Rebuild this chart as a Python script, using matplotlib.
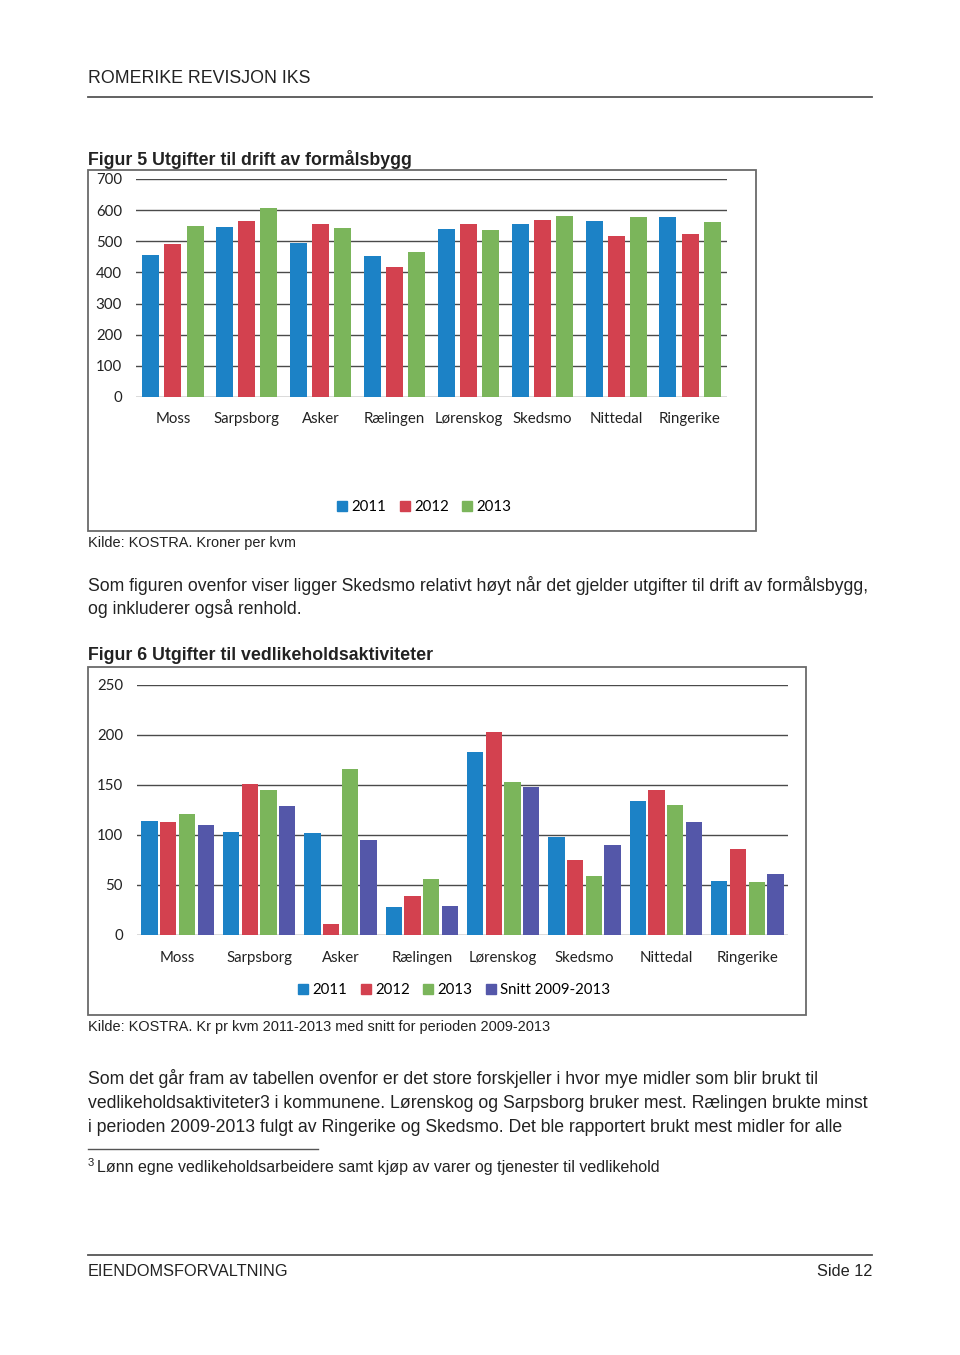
import numpy as np
import matplotlib
matplotlib.use('Agg')
import matplotlib.pyplot as plt
from matplotlib import font_manager
from matplotlib.font_manager import FontProperties
from matplotlib.patches import Rectangle
from matplotlib.lines import Line2D

kommuner = ['Moss', 'Sarpsborg', 'Asker', 'Rælingen', 'Lørenskog', 'Skedsmo', 'Nittedal', 'Ringerike']

# Figur 5 - kroner per kvm
drift_2011 = [457, 547, 494, 454, 540, 555, 564, 577]
drift_2012 = [490, 564, 557, 416, 556, 568, 516, 525]
drift_2013 = [550, 608, 542, 464, 537, 581, 579, 563]

# Figur 6 - kr pr kvm, snitt 2009-2013
vedl_2011 = [114, 103, 102, 28, 183, 98, 134, 54]
vedl_2012 = [113, 151, 11, 39, 203, 75, 145, 86]
vedl_2013 = [121, 145, 166, 56, 153, 59, 130, 53]
vedl_snitt = [110, 129, 95, 29, 148, 90, 113, 61]

aar = ['2011', '2012', '2013']
aar2 = ['2011', '2012', '2013', 'Snitt 2009-2013']
farger = ['#1c82c6', '#d3414f', '#7bb55b', '#5457a9']

W, H = 960, 1355
fig = plt.figure(figsize=(9.6, 13.55), dpi=100)
fig.patch.set_facecolor('white')
renderer = fig.canvas.get_renderer()


def fx(x):
    return x / W


def fy(y):
    return 1 - y / H


def has_font(name):
    try:
        font_manager.findfont(FontProperties(family=name), fallback_to_default=False)
        return True
    except Exception:
        return False


side_font = 'Liberation Sans Narrow' if has_font('Liberation Sans Narrow') else 'Liberation Sans'
graf_font = 'Lato' if has_font('Lato') else 'DejaVu Sans'


def fit(s, family, px, weight='normal'):
    # finn fontstørrelse slik at teksten blir px bred (to runder)
    size = 10.0
    for _ in range(3):
        t = fig.text(0, 0, s, fontsize=size, family=family, weight=weight)
        w = t.get_window_extent(renderer).width
        t.remove()
        size = size * px / w
    return size


def tekst(x, y, s, size, family=side_font, **kw):
    fig.text(fx(x), fy(y), s, fontsize=size, family=family, va='baseline', color='#222222', **kw)


def linje(x0, x1, y, lw=1.3, c='#555555'):
    fig.add_artist(Line2D([fx(x0), fx(x1)], [fy(y), fy(y)], lw=lw, color=c))


body = fit('Som figuren ovenfor viser ligger Skedsmo relativt høyt når det gjelder utgifter til drift av formålsbygg,',
           side_font, 782)
hode = fit('ROMERIKE REVISJON IKS', side_font, 222)
tittel = fit('Figur 5 Utgifter til drift av formålsbygg', side_font, 323, 'bold')
kilde = fit('Kilde: KOSTRA. Kroner per kvm', side_font, 206)
fot = fit('Lønn egne vedlikeholdsarbeidere samt kjøp av varer og tjenester til vedlikehold', side_font, 565)
bunn = fit('EIENDOMSFORVALTNING', side_font, 200)

kat = fit('Sarpsborg', graf_font, 66)
tick = kat
leg = kat

# topptekst
tekst(88, 83, 'ROMERIKE REVISJON IKS', hode)
linje(88, 872, 97)

# Figur 5
tekst(88, 165, 'Figur 5 Utgifter til drift av formålsbygg', tittel, weight='bold')
fig.add_artist(Rectangle((fx(88), fy(531)), fx(756 - 88), (531 - 170) / H, fill=False,
                         edgecolor='#6a6a6a', lw=1.3))


def stolper(ax, serier, navn, bredde, steg, ymax, ystep):
    n = len(serier)
    x = np.arange(len(kommuner))
    for i, (vals, c) in enumerate(zip(serier, farger)):
        ax.bar(x + (i - (n - 1) / 2) * steg, vals, bredde, color=c, label=navn[i], zorder=3)
    ax.set_xlim(-0.5, len(kommuner) - 0.5)
    ax.set_ylim(0, ymax)
    ax.set_yticks(np.arange(0, ymax + 1, ystep))
    ax.yaxis.grid(True, color='#4a4a4a', lw=1.0)
    ax.set_axisbelow(True)
    for s in ax.spines.values():
        s.set_visible(False)
    ax.set_xticks(x)
    ax.set_xticklabels(kommuner, family=graf_font, fontsize=kat, color='#222222')
    for lab in ax.get_yticklabels():
        lab.set_family(graf_font)
        lab.set_fontsize(tick)
        lab.set_color('#222222')
    ax.tick_params(axis='y', length=0, pad=10)
    ax.set_facecolor('none')


ax1 = fig.add_axes([fx(136), fy(397), fx(727 - 136), (397 - 179) / H])
stolper(ax1, [drift_2011, drift_2012, drift_2013], aar, 0.23, 0.30, 700, 100)
ax1.tick_params(axis='x', length=0, pad=10.5)


def legende(handles_navn, n, cx, cy):
    hs = [Line2D([], [], marker='s', ls='none', markersize=6.5, color=farger[i]) for i in range(n)]
    fig.legend(hs, handles_navn, loc='center', bbox_to_anchor=(fx(cx), fy(cy)), ncol=n, frameon=False,
               prop=FontProperties(family=graf_font, size=leg), handlelength=0.5, handletextpad=0.35,
               columnspacing=1.0, borderpad=0)


legende(aar, 3, 425, 507)
tekst(88, 547, 'Kilde: KOSTRA. Kroner per kvm', kilde)

tekst(88, 591, 'Som figuren ovenfor viser ligger Skedsmo relativt høyt når det gjelder utgifter til drift av formålsbygg,', body)
tekst(88, 614, 'og inkluderer også renhold.', body)

# Figur 6
tekst(88, 660, 'Figur 6 Utgifter til vedlikeholdsaktiviteter', tittel, weight='bold')
fig.add_artist(Rectangle((fx(88), fy(1015)), fx(806 - 88), (1015 - 667) / H, fill=False,
                         edgecolor='#6a6a6a', lw=1.3))

ax2 = fig.add_axes([fx(137), fy(935), fx(788 - 137), (935 - 685) / H])
stolper(ax2, [vedl_2011, vedl_2012, vedl_2013, vedl_snitt], aar2, 0.2, 0.23, 250, 50)
ax2.tick_params(axis='x', length=0, pad=11.5)

legende(aar2, 4, 455, 990)
tekst(88, 1031, 'Kilde: KOSTRA. Kr pr kvm 2011-2013 med snitt for perioden 2009-2013', kilde)

tekst(88, 1084, 'Som det går fram av tabellen ovenfor er det store forskjeller i hvor mye midler som blir brukt til', body)
tekst(88, 1108, 'vedlikeholdsaktiviteter3 i kommunene. Lørenskog og Sarpsborg bruker mest. Rælingen brukte minst', body)
tekst(88, 1132, 'i perioden 2009-2013 fulgt av Ringerike og Skedsmo. Det ble rapportert brukt mest midler for alle', body)

# fotnote
linje(88, 318, 1149, lw=1.0)
tekst(88, 1166, '3', fot * 0.7)
tekst(97, 1172, 'Lønn egne vedlikeholdsarbeidere samt kjøp av varer og tjenester til vedlikehold', fot)

# bunntekst
linje(88, 872, 1255)
tekst(88, 1276, 'EIENDOMSFORVALTNING', bunn)
tekst(872, 1276, 'Side 12', bunn, ha='right')

fig.savefig('out.png', dpi=100, facecolor='white')
